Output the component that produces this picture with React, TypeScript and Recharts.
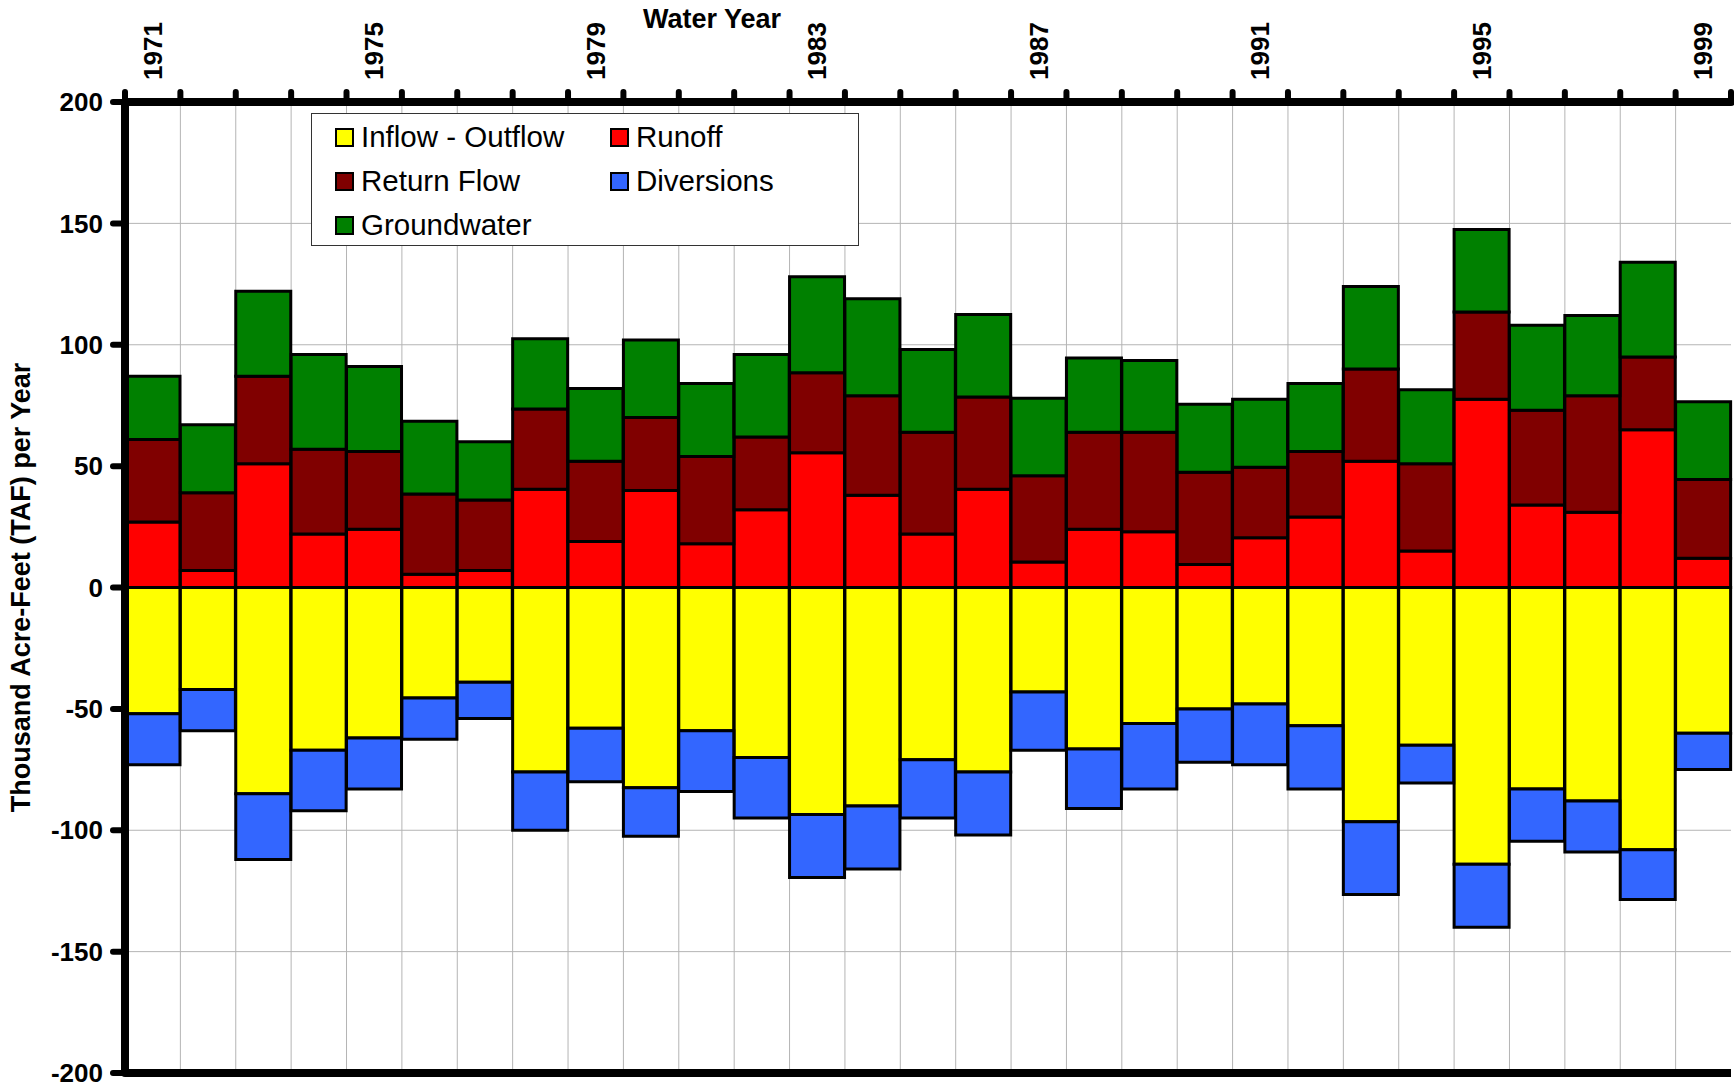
import { Bar, BarChart, CartesianGrid, ReferenceLine, XAxis, YAxis } from 'recharts'

const years = [
  1971, 1972, 1973, 1974, 1975, 1976, 1977, 1978, 1979, 1980, 1981, 1982, 1983, 1984, 1985,
  1986, 1987, 1988, 1989, 1990, 1991, 1992, 1993, 1994, 1995, 1996, 1997, 1998, 1999,
]
const runoff = [
  27, 7, 51, 22, 24, 5.5, 7, 40.5, 19, 40, 18, 32, 55.5, 38, 22, 40.5, 10.5, 24, 23, 9.5, 20.5,
  29, 52, 15, 77.5, 34, 31, 65, 12,
]
const returnFlow = [
  34, 32, 36, 35, 32, 33, 29, 33, 33, 30, 36, 30, 33, 41, 42, 38, 35.5, 40, 41, 38, 29, 27, 38,
  36, 36, 39, 48, 30, 32.5,
]
const groundwater = [
  26, 28, 35, 39, 35, 30, 24, 29, 30, 32, 30, 34, 39.5, 40, 34, 34, 32, 30.5, 29.5, 28, 28, 28,
  34, 30.5, 34, 35, 33, 39, 32,
]
const inflowOutflow = [
  -52, -42, -85, -67, -62, -45.5, -39, -76, -58, -82.5, -59, -70, -93.5, -90, -71, -76, -43,
  -66.5, -56, -50, -48, -57, -96.5, -65, -114, -83, -88, -108, -60,
]
const diversions = [
  -21, -17, -27, -25, -21, -17, -15, -24, -22, -20, -25, -25, -26, -26, -24, -26, -24, -24.5,
  -27, -22, -25, -26, -30, -15.5, -26, -21.5, -21, -20.5, -15,
]
const yTicks = [-200, -150, -100, -50, 0, 50, 100, 150, 200]

const data = years.map((year, i) => ({
  year,
  inflowOutflow: inflowOutflow[i],
  runoff: runoff[i],
  returnFlow: returnFlow[i],
  diversions: diversions[i],
  groundwater: groundwater[i],
}))

// draw order matters for the stacks: runoff -> return -> gw up, inflow -> diversions down
const series = [
  { key: 'inflowOutflow', name: 'Inflow - Outflow', color: '#FFFF00' },
  { key: 'runoff', name: 'Runoff', color: '#FF0000' },
  { key: 'returnFlow', name: 'Return Flow', color: '#800000' },
  { key: 'diversions', name: 'Diversions', color: '#3366FF' },
  { key: 'groundwater', name: 'Groundwater', color: '#008000' },
]

const FONT = '"Liberation Sans", Arial, Helvetica, sans-serif'
const W = 1734
const H = 1087
const MARGIN = { top: 12, right: 3, bottom: 14, left: 10 }
const Y_AXIS_W = 115
const X_AXIS_H = 90
const PLOT_W = W - MARGIN.left - MARGIN.right - Y_AXIS_W
const HALF_BAND = PLOT_W / years.length / 2

function YearTick(props: any) {
  const { x, y, payload, index } = props
  const showLabel = (Number(payload.value) - years[0]) % 4 === 0
  const tick = (tx: number) => (
    <line x1={tx} x2={tx} y1={y} y2={y - 10} stroke="#000" strokeWidth={6} strokeLinecap="round" />
  )
  return (
    <g>
      {tick(x - HALF_BAND)}
      {index === years.length - 1 && tick(x + HALF_BAND)}
      {showLabel && (
        <text
          transform={`translate(${x + 9}, ${y - 22}) rotate(-90)`}
          textAnchor="start"
          fontFamily={FONT}
          fontWeight="bold"
          fontSize={26}
          fill="#000"
        >
          {payload.value}
        </text>
      )}
    </g>
  )
}

function LegendBox() {
  const rows = [
    [series[0], series[1]],
    [series[2], series[3]],
    [series[4]],
  ]
  return (
    <div
      style={{
        position: 'absolute',
        left: 311,
        top: 113,
        width: 546,
        height: 131,
        background: '#fff',
        border: '1px solid #333',
        fontFamily: FONT,
        fontSize: 29.5,
        color: '#000',
      }}
    >
      {rows.map((row, r) =>
        row.map((s, c) => (
          <div
            key={s.key}
            style={{
              position: 'absolute',
              left: c === 0 ? 23 : 298,
              top: 23 + r * 44 - 17,
              height: 34,
              display: 'flex',
              alignItems: 'center',
              whiteSpace: 'nowrap',
            }}
          >
            <span
              style={{
                display: 'inline-block',
                width: 15,
                height: 15,
                background: s.color,
                border: '2px solid #000',
                marginRight: 7,
              }}
            />
            <span>{s.name}</span>
          </div>
        )),
      )}
    </div>
  )
}

export default function App() {
  return (
    <div style={{ position: 'absolute', left: 0, top: 0, width: W, height: H, background: '#fff' }}>
      <BarChart
        width={W}
        height={H}
        data={data}
        margin={MARGIN}
        barCategoryGap={0}
        barGap={0}
        stackOffset="sign"
      >
        <CartesianGrid
          stroke="#b4b4b4"
          strokeWidth={1}
          verticalCoordinatesGenerator={({ offset }: any) =>
            years.slice(1).map((_, i) => offset.left + ((i + 1) * offset.width) / years.length)
          }
        />
        <XAxis
          dataKey="year"
          orientation="top"
          height={X_AXIS_H}
          interval={0}
          tickLine={false}
          tickSize={0}
          tickMargin={0}
          axisLine={{ stroke: '#000', strokeWidth: 8, strokeLinecap: 'round' }}
          tick={<YearTick />}
          label={(p: any) => (
            <text
              x={p.viewBox.x + 587}
              y={p.viewBox.y + 16}
              textAnchor="middle"
              fontFamily={FONT}
              fontWeight="bold"
              fontSize={27}
              fill="#000"
            >
              Water Year
            </text>
          )}
        />
        <YAxis
          width={Y_AXIS_W}
          domain={[-200, 200]}
          ticks={yTicks}
          interval={0}
          allowDataOverflow
          tickSize={12}
          tickMargin={10}
          tickLine={{ stroke: '#000', strokeWidth: 6, strokeLinecap: 'round' }}
          axisLine={{ stroke: '#000', strokeWidth: 8, strokeLinecap: 'round' }}
          tick={{ fill: '#000', fontSize: 26, fontWeight: 'bold', fontFamily: FONT }}
          label={(p: any) => (
            <text
              transform={`translate(${p.viewBox.x + 20}, ${p.viewBox.y + p.viewBox.height / 2}) rotate(-90)`}
              textAnchor="middle"
              fontFamily={FONT}
              fontWeight="bold"
              fontSize={27}
              fill="#000"
            >
              Thousand Acre-Feet (TAF) per Year
            </text>
          )}
        />
        {series.map((s) => (
          <Bar
            key={s.key}
            dataKey={s.key}
            name={s.name}
            stackId="a"
            fill={s.color}
            stroke="#000"
            strokeWidth={3}
            isAnimationActive={false}
          />
        ))}
        <ReferenceLine y={-200} stroke="#000" strokeWidth={8} />
        <ReferenceLine x={1999} position="end" stroke="#000" strokeWidth={8} />
      </BarChart>
      <LegendBox />
    </div>
  )
}
